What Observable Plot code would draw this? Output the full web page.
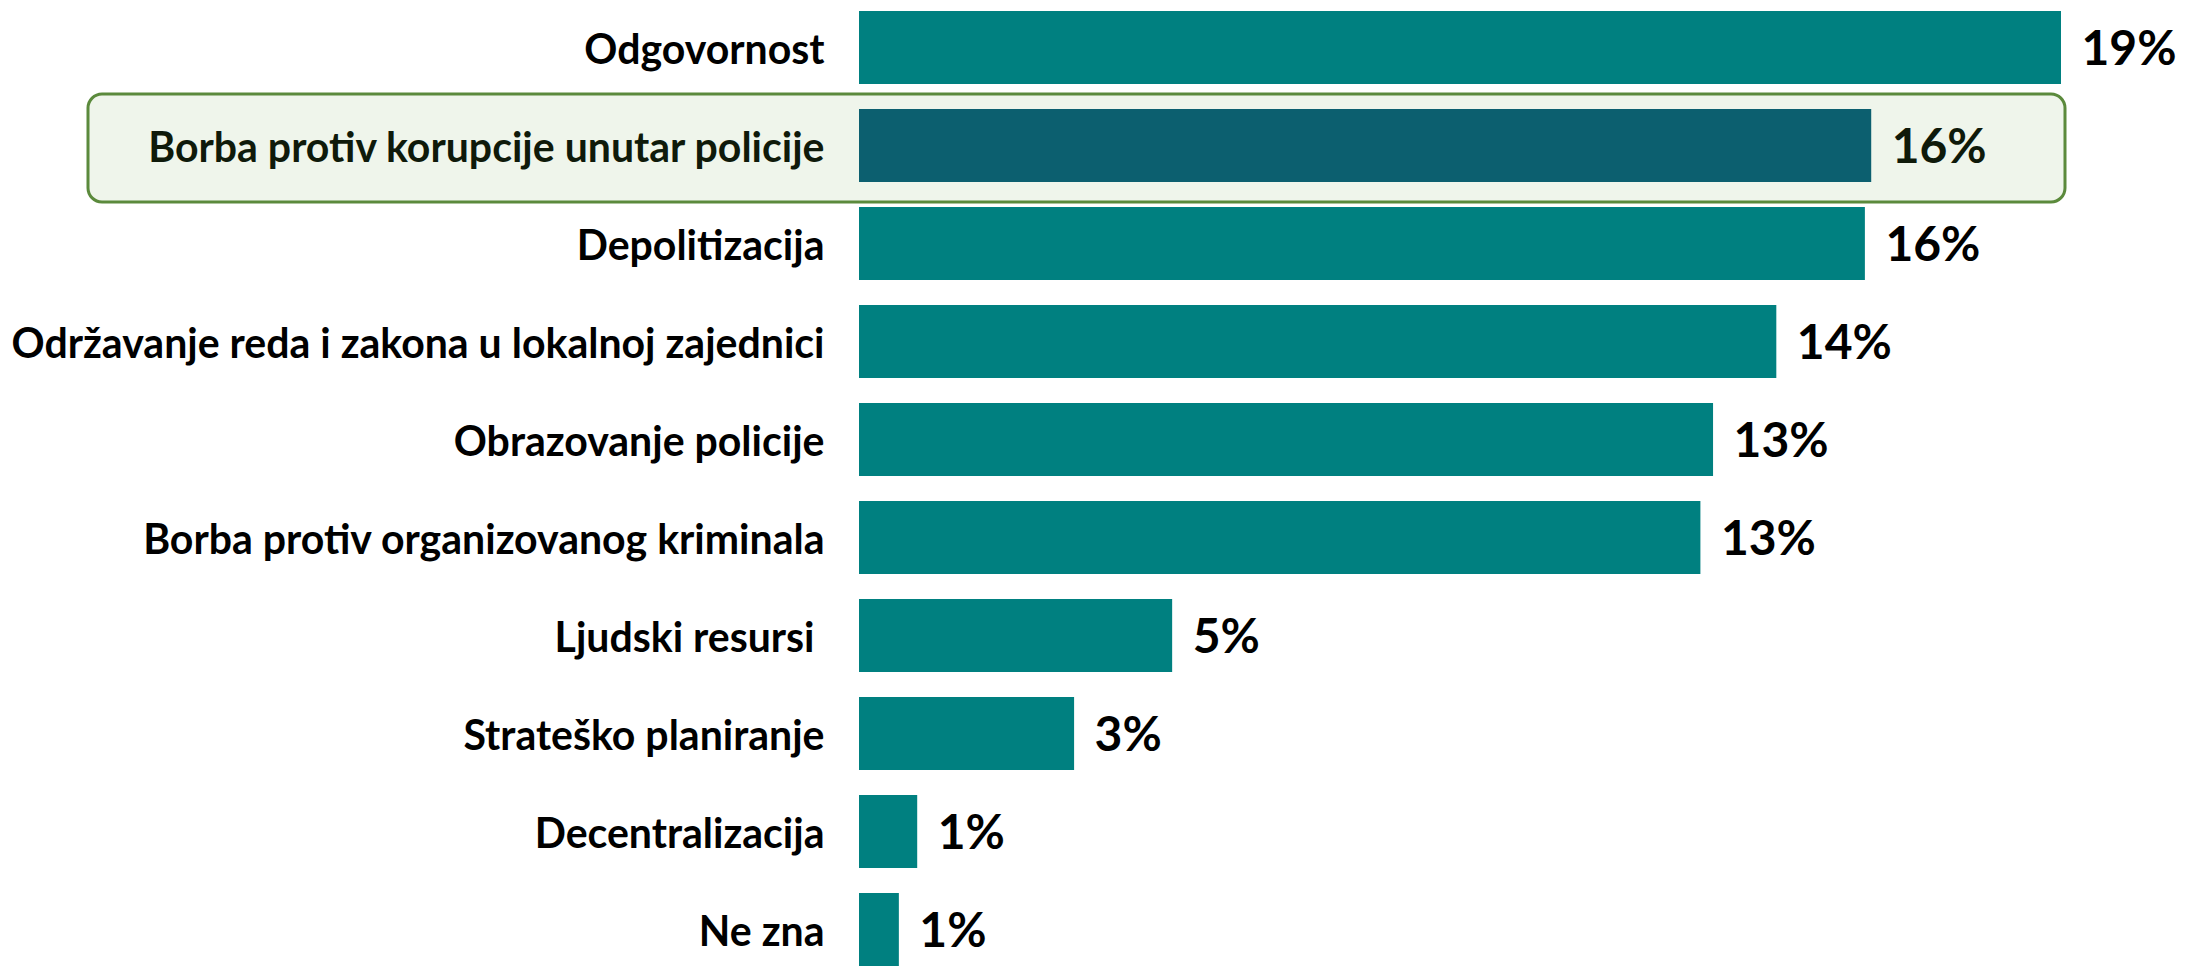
<!DOCTYPE html>
<html>
<head>
<meta charset="utf-8">
<script src="https://cdn.jsdelivr.net/npm/d3@7"></script>
<script src="https://cdn.jsdelivr.net/npm/@observablehq/plot@0.6"></script>
<style>
  html, body { margin: 0; padding: 0; background: #ffffff; }
  #chart svg { display: block; }
</style>
</head>
<body>
<div id="chart"></div>
<script>
const categories = [
  "Odgovornost",
  "Borba protiv korupcije unutar policije",
  "Depolitizacija",
  "Održavanje reda i zakona u lokalnoj zajednici",
  "Obrazovanje policije",
  "Borba protiv organizovanog kriminala",
  "Ljudski resursi\u00a0",
  "Strateško planiranje",
  "Decentralizacija",
  "Ne zna"
];
const values = [19.0, 16.0, 15.9, 14.5, 13.5, 13.3, 4.95, 3.4, 0.92, 0.63];
const valueLabels = ["19%", "16%", "16%", "14%", "13%", "13%", "5%", "3%", "1%", "1%"];
const highlighted = "Borba protiv korupcije unutar policije";

const data = categories.map((c, i) => ({category: c, value: values[i], label: valueLabels[i]}));

const FONT = "Lato";
function fitSize(text, target) {
  const ctx = document.createElement("canvas").getContext("2d");
  ctx.font = `bold 100px ${FONT}`;
  return 100 * target / ctx.measureText(text).width;
}
const catSize = fitSize("Održavanje reda i zakona u lokalnoj zajednici", 813);
const valSize = fitSize("19%", 95);

const teal = "#008080";
const darkTeal = "#0c5f6f";
const isHi = d => d.category === highlighted;

const chart = Plot.plot({
  width: 2208,
  height: 966,
  marginLeft: 859,
  marginRight: 147,
  marginTop: 0,
  marginBottom: 0,
  style: {fontFamily: FONT, background: "#ffffff", overflow: "visible"},
  x: {domain: [0, 19], axis: null},
  y: {domain: categories, range: [-4, 980], paddingInner: 0.26, paddingOuter: 0.13, axis: null},
  marks: [
    Plot.barX(data.filter(isHi), {
      y: "category", x1: 0, x2: 19,
      fill: "#eff5eb", stroke: "#5b8a3c", strokeWidth: 3,
      insetLeft: -771, insetRight: -4, insetTop: -15, insetBottom: -20, rx: 14
    }),
    Plot.barX(data.filter(d => !isHi(d)), {y: "category", x: "value", fill: teal}),
    Plot.barX(data.filter(isHi), {y: "category", x: "value", fill: darkTeal}),
    Plot.text(data, {
      y: "category", x: 0, text: "category", textAnchor: "end", dx: -35, dy: 3,
      fontWeight: "bold", fontSize: catSize, fill: d => isHi(d) ? "#0f1a0a" : "#000000"
    }),
    Plot.text(data, {
      y: "category", x: "value", text: "label", textAnchor: "start", dx: 20, dy: 2,
      fontWeight: "bold", fontSize: valSize, fill: d => isHi(d) ? "#0f1a0a" : "#000000"
    })
  ]
});
document.getElementById("chart").appendChild(chart);
</script>
</body>
</html>
